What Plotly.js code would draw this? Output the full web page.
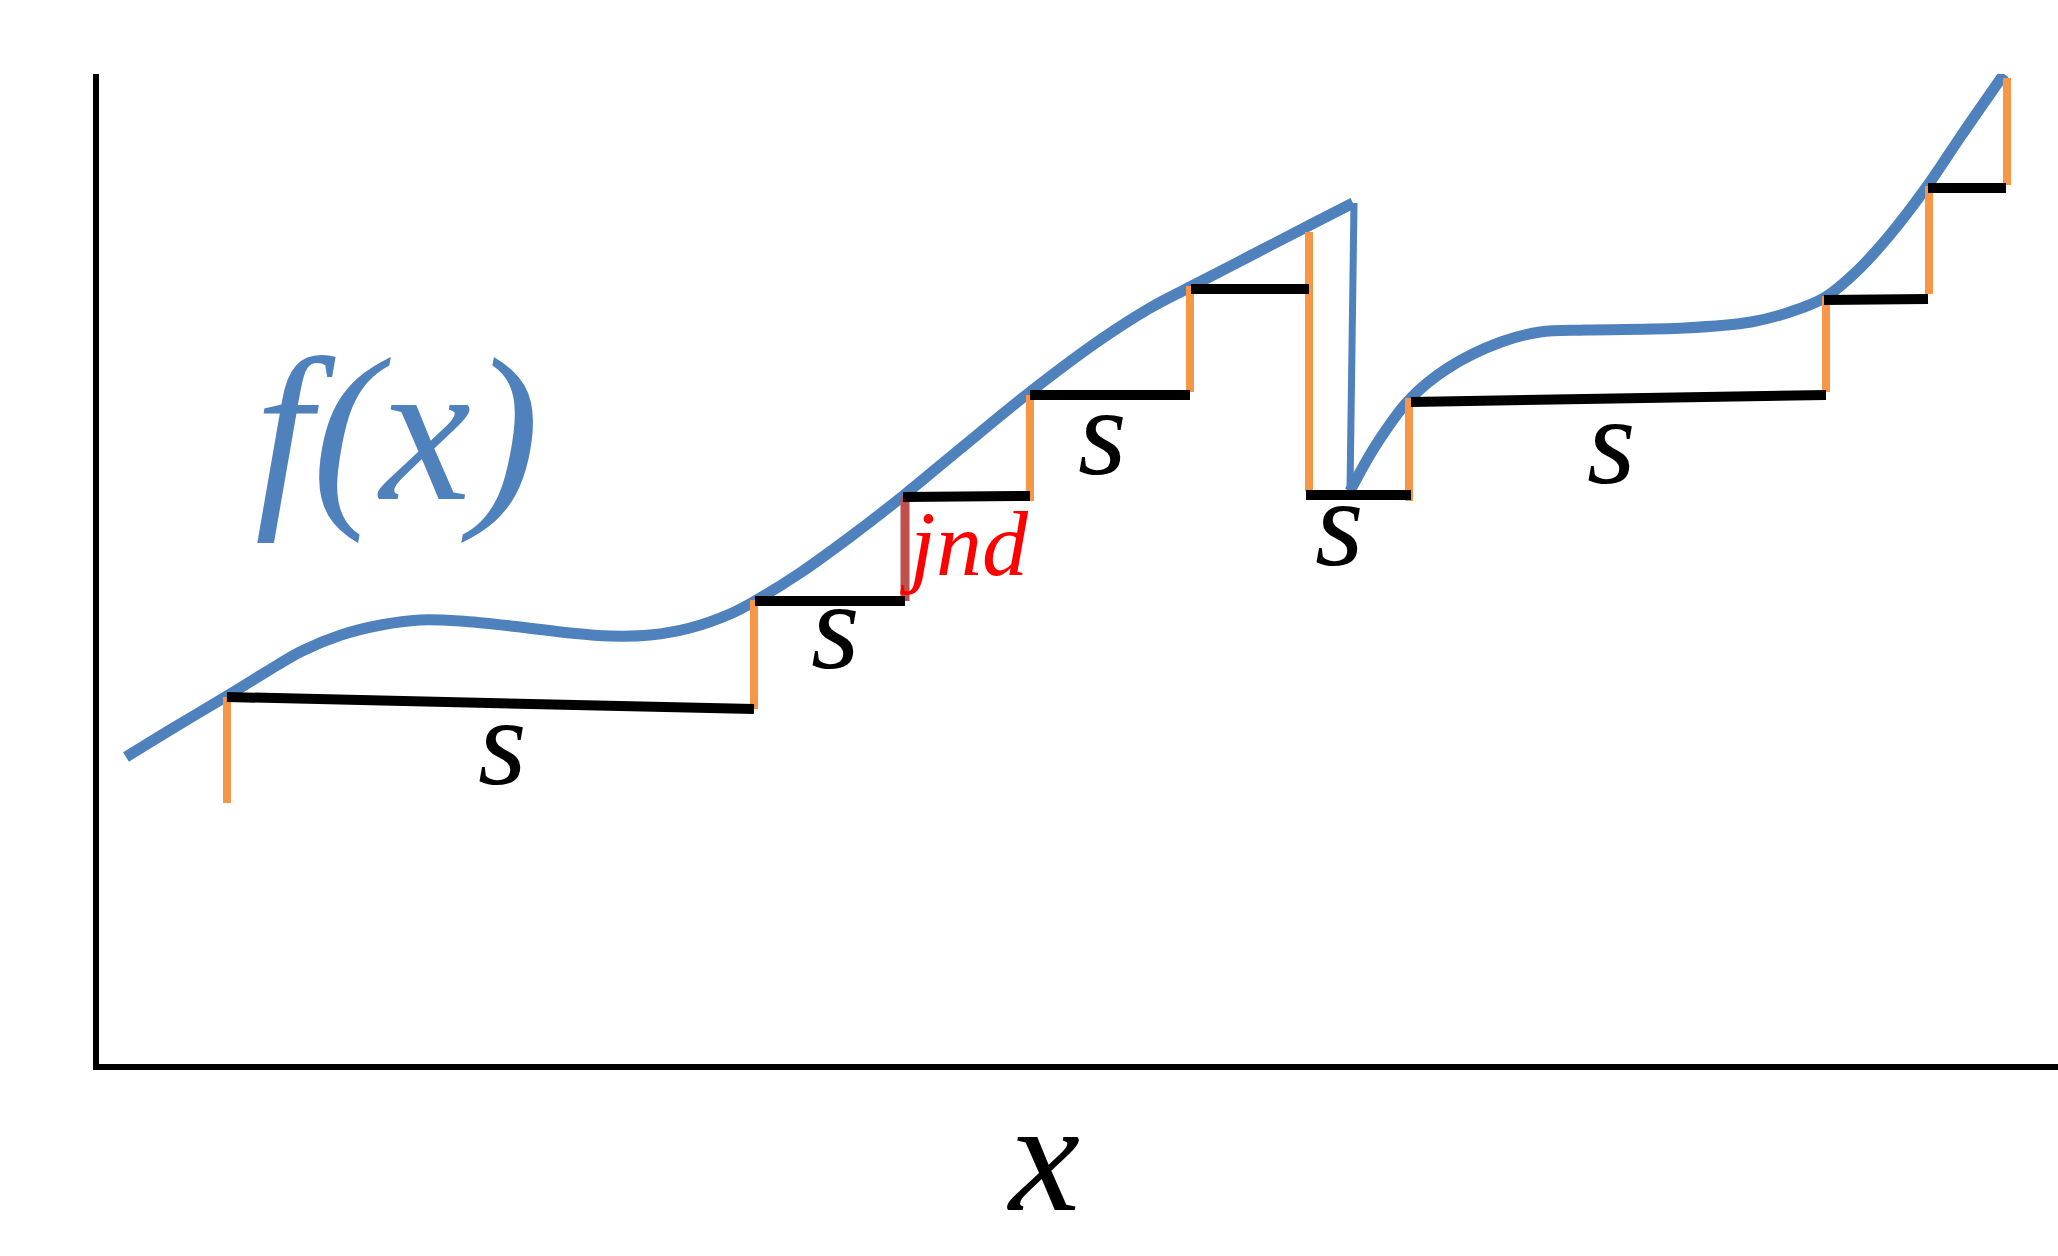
<!DOCTYPE html>
<html>
<head>
<meta charset="utf-8">
<script src="https://cdn.plot.ly/plotly-3.0.1.min.js"></script>
<style>
  @font-face {
    font-family: 'LabelSerif';
    font-style: italic;
    font-weight: 400;
    src: local('Liberation Serif Italic'), local('LiberationSerif-Italic');
  }
  html, body { margin: 0; padding: 0; background: #fff; }
  #chart { width: 2058px; height: 1256px; }
  #warm { position: absolute; left: -6000px; top: 0; font: italic 120px 'LabelSerif', 'Liberation Serif'; }
</style>
</head>
<body>
<div id="chart"></div>
<div id="warm" aria-hidden="true">s f(x) jnd</div>
<script>
// picture units: origin at the axis corner, y upwards
const curveAX = [30, 79, 131, 170, 206, 245, 285, 324, 364, 424, 474, 514, 554, 594, 634, 659, 704, 754, 807, 864, 934, 1004, 1054, 1094, 1154, 1214, 1257];
const curveAY = [310, 340, 371, 395, 416, 432, 442, 447, 446, 440, 434, 431, 432, 439, 453, 466, 494, 530, 571, 618, 675, 727, 759, 780, 811, 842, 864];

const jumpX = [1258, 1254];
const jumpY = [864, 576];

const curveBX = [1254, 1280, 1313, 1352, 1405, 1444, 1490, 1589, 1655, 1694, 1728, 1760, 1793, 1832, 1865, 1908];
const curveBY = [576, 622, 667, 699, 725, 735, 737, 739, 745, 755, 769, 795, 831, 882, 931, 993];

// horizontal steps (s)
const stepX0 = [131, 659, 807, 934, 1095, 1210, 1315, 1728, 1832];
const stepY0 = [370, 466, 570, 672, 778, 572, 665, 767, 879];
const stepX1 = [658, 809, 934, 1094, 1213, 1315, 1730, 1832, 1910];
const stepY1 = [358, 466, 571, 672, 778, 572, 672, 768, 879];

// vertical rises
const riseX = [131, 658, 934, 1094, 1213, 1313, 1730, 1833, 1911];
const riseLo = [264, 358, 566, 675, 576, 566, 675, 773, 882];
const riseHi = [370, 467, 672, 781, 835, 669, 771, 881, 989];

// the one rise marked jnd
const jndX = 809, jndLo = 466, jndHi = 570;

// "s" labels
const sLabelX = [406, 739, 1006, 1243, 1515];
const sLabelY = [325, 441, 635, 544, 626];

const BLUE = '#4F81BD', ORANGE = '#F79646', RED = '#C0504D';
const SERIF = 'LabelSerif, Liberation Serif, serif';

function segs(x0, y0, x1, y1) {
  const xs = [], ys = [];
  x0.forEach((v, i) => { xs.push(v, x1[i], null); ys.push(y0[i], y1[i], null); });
  return { xs, ys };
}

function draw() {
  const steps = segs(stepX0, stepY0, stepX1, stepY1);
  const rises = segs(riseX, riseLo, riseX, riseHi);

  const traces = [
    { x: curveAX, y: curveAY, mode: 'lines', line: { color: BLUE, width: 11, shape: 'spline', smoothing: 1 } },
    { x: jumpX, y: jumpY, mode: 'lines', line: { color: BLUE, width: 7 } },
    { x: curveBX, y: curveBY, mode: 'lines', line: { color: BLUE, width: 11, shape: 'spline', smoothing: 1 } },
    { x: rises.xs, y: rises.ys, mode: 'lines', line: { color: ORANGE, width: 8 }, connectgaps: false },
    { x: [jndX, jndX], y: [jndLo, jndHi], mode: 'lines', line: { color: RED, width: 9 } },
    { x: steps.xs, y: steps.ys, mode: 'lines', line: { color: '#000', width: 10 }, connectgaps: false },
  ];

  const annotations = sLabelX.map((x, i) => ({
    x, y: sLabelY[i], text: 's', showarrow: false, yanchor: 'middle',
    font: { family: SERIF, size: 125, color: '#000', style: 'italic' }
  }));
  annotations.push(
    { x: 301, y: 638, text: 'f(x)', showarrow: false, yanchor: 'middle',
      font: { family: SERIF, size: 205, color: BLUE, style: 'italic' } },
    { x: 868, y: 523, text: 'jnd', showarrow: false, yanchor: 'middle',
      font: { family: SERIF, size: 92, color: '#ff0000', style: 'italic' } },
    { x: 947, xref: 'x', y: -0.093, yref: 'paper', yanchor: 'middle', text: 'x', showarrow: false,
      font: { family: SERIF, size: 160, color: '#000', style: 'italic' } }
  );

  Plotly.newPlot('chart', traces, {
    width: 2058, height: 1256,
    margin: { l: 99, r: 0, t: 74, b: 192 },
    paper_bgcolor: '#fff', plot_bgcolor: '#fff',
    showlegend: false,
    xaxis: { range: [3, 1962], showgrid: false, zeroline: false, showticklabels: false, ticks: '',
             showline: true, linecolor: '#000', linewidth: 6 },
    yaxis: { range: [3, 993], showgrid: false, zeroline: false, showticklabels: false, ticks: '',
             showline: true, linecolor: '#000', linewidth: 6 },
    annotations
  }, { staticPlot: true, displayModeBar: false });
}

// load the local italic face first so the labels are measured with it
if (document.fonts && document.fonts.load) {
  document.fonts.load("italic 125px LabelSerif", 's f(x) jnd').then(draw, draw);
} else {
  draw();
}
</script>
</body>
</html>
